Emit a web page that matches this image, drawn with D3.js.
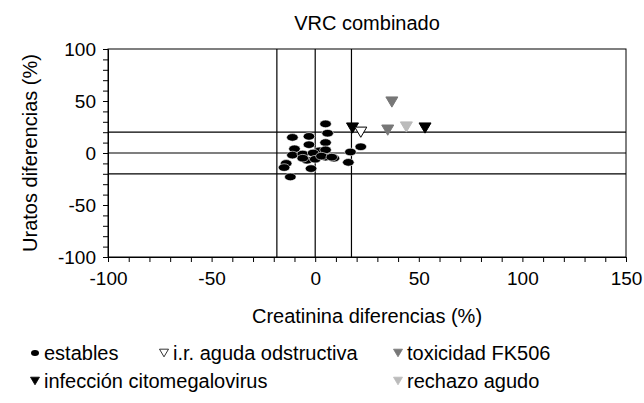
<!DOCTYPE html>
<html>
<head>
<meta charset="utf-8">
<script src="https://cdn.jsdelivr.net/npm/d3@7"></script>
<style>
  body { margin: 0; background: #fff; }
  text { font-family: "Liberation Sans", Arial, sans-serif; fill: #000; }
  .axis text { font-size: 19px; }
  .axis path, .axis line { stroke: #000; }
</style>
</head>
<body>
<div id="chart"></div>
<script>
// stable patients (creatinine diff %, urates diff %)
var establesX = [5, 6, -11, -3, 5, -10, -3, 2, 5, -11, -6, -1, -4, 0, 5, 9, 17, 22, 16, -14, -15, -2, -12, -6, 3, 8];
var establesY = [28, 19, 15, 16, 10, 4, 8, 2, 3, -2, -1, 0, -7, -6, -4, -5, 1, 6, -9, -10, -14, -15, -23, -5, -3, -4];

var irX = [22];
var irY = [20];
var cmvX = [18, 53];
var cmvY = [24, 24];
var fkX = [37, 35];
var fkY = [49, 22];
var rechazoX = [44];
var rechazoY = [25];

var xTicks = [-100, -50, 0, 50, 100, 150];
var yTicks = [-100, -50, 0, 50, 100];
var vLines = [-18.5, 0, 17.5];
var hLines = [-20, 0, 20];

var width = 644, height = 403;
var margin = {top: 49, right: 18, bottom: 146, left: 108};
var graphWidth = width - margin.left - margin.right;
var graphHeight = height - margin.top - margin.bottom;

var svg = d3.select("#chart")
  .append("svg")
  .attr("width", width)
  .attr("height", height);

var g = svg.append("g")
  .attr("transform", "translate(" + margin.left + "," + margin.top + ")");

var x = d3.scaleLinear().domain([-100, 150]).range([0, graphWidth]);
var y = d3.scaleLinear().domain([-100, 100]).range([graphHeight, 0]);

// frame
g.append("rect")
  .attr("width", graphWidth)
  .attr("height", graphHeight)
  .attr("fill", "none")
  .attr("stroke", "#000");

// reference lines
g.selectAll(".vline")
  .data(vLines)
  .enter()
  .append("line")
  .attr("x1", function(d) { return x(d); })
  .attr("x2", function(d) { return x(d); })
  .attr("y1", 0)
  .attr("y2", graphHeight)
  .attr("stroke", "#000")
  .attr("stroke-width", 1.2);

g.selectAll(".hline")
  .data(hLines)
  .enter()
  .append("line")
  .attr("x1", 0)
  .attr("x2", graphWidth)
  .attr("y1", function(d) { return y(d); })
  .attr("y2", function(d) { return y(d); })
  .attr("stroke", "#000")
  .attr("stroke-width", 1.2);

// axes
g.append("g")
  .attr("class", "axis")
  .attr("transform", "translate(0," + graphHeight + ")")
  .call(d3.axisBottom(x)
    .tickValues(d3.range(-100, 151, 10))
    .tickSize(5)
    .tickPadding(10)
    .tickFormat(function(d) { return xTicks.indexOf(d) >= 0 ? d : ""; }));

g.append("g")
  .attr("class", "axis")
  .call(d3.axisLeft(y)
    .tickValues(d3.range(-100, 101, 10))
    .tickSize(5)
    .tickPadding(7)
    .tickFormat(function(d) { return yTicks.indexOf(d) >= 0 ? d : ""; }));

// labels
svg.append("text")
  .attr("x", margin.left + graphWidth / 2)
  .attr("y", 30)
  .attr("text-anchor", "middle")
  .style("font-size", "20px")
  .text("VRC combinado");

svg.append("text")
  .attr("x", margin.left + graphWidth / 2)
  .attr("y", 323)
  .attr("text-anchor", "middle")
  .style("font-size", "20px")
  .text("Creatinina diferencias (%)");

svg.append("text")
  .attr("transform", "rotate(-90)")
  .attr("x", -(margin.top + graphHeight / 2))
  .attr("y", 37)
  .attr("text-anchor", "middle")
  .style("font-size", "20px")
  .text("Uratos diferencias (%)");

// points
function toPts(xs, ys) {
  return xs.map(function(d, i) { return [d, ys[i]]; });
}

g.selectAll(".estable")
  .data(toPts(establesX, establesY))
  .enter()
  .append("ellipse")
  .attr("cx", function(d) { return x(d[0]); })
  .attr("cy", function(d) { return y(d[1]); })
  .attr("rx", 5.8)
  .attr("ry", 3.8)
  .attr("fill", "#000")
  .attr("stroke", "#fff")
  .attr("stroke-width", 0.6);

// down triangle path centred on 0,0
function tri(s) {
  var h = s * 0.85;
  return "M" + (-s / 2) + "," + (-h / 2) + "L" + (s / 2) + "," + (-h / 2) + "L0," + (h / 2) + "Z";
}

function plotTri(cls, xs, ys, fill, stroke) {
  g.selectAll("." + cls)
    .data(toPts(xs, ys))
    .enter()
    .append("path")
    .attr("class", cls)
    .attr("d", tri(12))
    .attr("transform", function(d) { return "translate(" + x(d[0]) + "," + y(d[1]) + ")"; })
    .attr("fill", fill)
    .attr("stroke", stroke)
    .attr("stroke-width", 1);
}

plotTri("fk", fkX, fkY, "#777", "#777");
plotTri("rech", rechazoX, rechazoY, "#bbb", "#bbb");
plotTri("cmv", cmvX, cmvY, "#000", "#000");
plotTri("ir", irX, irY, "#fff", "#000");

// legend
var legend = [
  {label: "estables", x: 30, y: 353, shape: "dot", fill: "#000", stroke: "#000"},
  {label: "i.r. aguda odstructiva", x: 159, y: 353, shape: "tri", fill: "#fff", stroke: "#000"},
  {label: "toxicidad FK506", x: 393, y: 353, shape: "tri", fill: "#777", stroke: "#777"},
  {label: "infección citomegalovirus", x: 30, y: 381, shape: "tri", fill: "#000", stroke: "#000"},
  {label: "rechazo agudo", x: 393, y: 381, shape: "tri", fill: "#bbb", stroke: "#bbb"}
];

var lg = svg.selectAll(".legend")
  .data(legend)
  .enter()
  .append("g")
  .attr("transform", function(d) { return "translate(" + d.x + "," + d.y + ")"; });

lg.each(function(d) {
  var el = d3.select(this);
  if (d.shape == "dot") {
    el.append("ellipse")
      .attr("cx", 5).attr("cy", 0)
      .attr("rx", 4).attr("ry", 3)
      .attr("fill", d.fill);
  } else {
    el.append("path")
      .attr("d", tri(9))
      .attr("transform", "translate(5,0)")
      .attr("fill", d.fill)
      .attr("stroke", d.stroke)
      .attr("stroke-width", 0.8);
  }
});

lg.append("text")
  .attr("x", 14)
  .attr("y", 7)
  .style("font-size", "20px")
  .text(function(d) { return d.label; });
</script>
</body>
</html>
